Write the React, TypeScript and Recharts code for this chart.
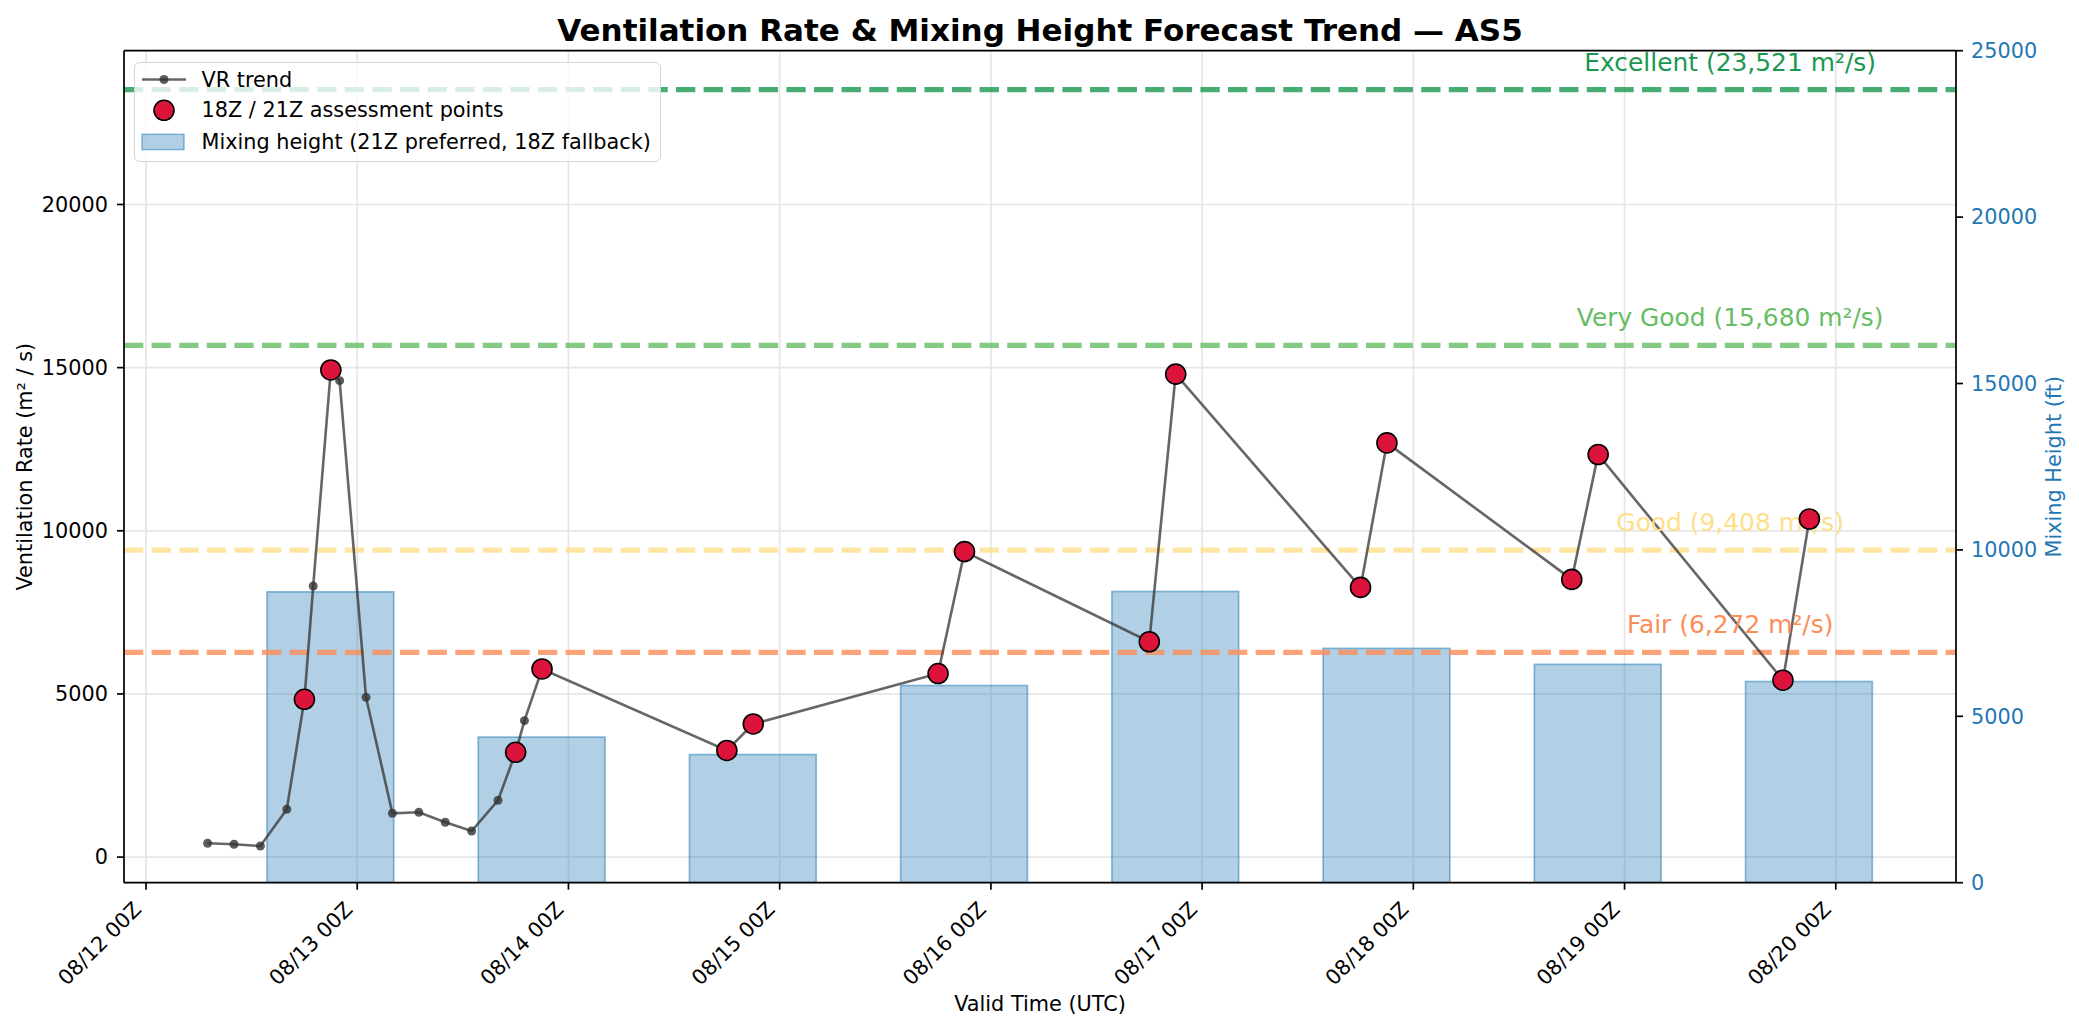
import React from "react";
import {
  ComposedChart,
  Bar,
  Line,
  Scatter,
  XAxis,
  YAxis,
  CartesianGrid,
  ReferenceLine,
  ReferenceDot,
  Legend,
} from "recharts";

const FONT = '"DejaVu Sans", Verdana, sans-serif';

// valid times, hours after 08/12 00Z
const trendHours = [7, 10, 13, 16, 18, 19, 21, 22, 25, 28, 31, 34, 37, 40, 42, 43, 45, 66, 69, 90, 93, 114, 117, 138, 141, 162, 165, 186, 189];
const trendVR = [423, 392, 340, 1465, 4836, 8308, 14928, 14600, 4897, 1342, 1373, 1066, 800, 1741, 3212, 4180, 5765, 3267, 4080, 5624, 9362, 6599, 14800, 8265, 12694, 8510, 12338, 5421, 10361];

const mixHours = [21, 45, 69, 93, 117, 141, 165, 189];
const mixHeight = [8740, 4375, 3850, 5925, 8750, 7040, 6560, 6045];

const tickHours = [0, 24, 48, 72, 96, 120, 144, 168, 192];
const tickLabels = ["08/12 00Z", "08/13 00Z", "08/14 00Z", "08/15 00Z", "08/16 00Z", "08/17 00Z", "08/18 00Z", "08/19 00Z", "08/20 00Z"];

const assessZ = [18, 21];

const thresholdNames = ["Excellent", "Very Good", "Good", "Fair"];
const thresholdValues = [23521, 15680, 9408, 6272];
const thresholdColors = ["#1a9850", "#66bd63", "#fee08b", "#fc8d59"];

const vrTicks = [0, 5000, 10000, 15000, 20000];
const mixTicks = [0, 5000, 10000, 15000, 20000, 25000];

const W = 2079;
const H = 1032;
const MARGIN = { top: 50.7, right: 43, bottom: 39.3, left: 44 };
const AXIS_W = 80;
const XAXIS_H = 110;
const PLOT_W = W - MARGIN.left - MARGIN.right - 2 * AXIS_W;
const X_DOMAIN: [number, number] = [-2.5, 205.66];
const VR_DOMAIN: [number, number] = [-785, 24713];
const MIX_DOMAIN: [number, number] = [0, 25000];
const BAR_HOURS = 14.4;
const BAR_PX = (BAR_HOURS * PLOT_W) / (X_DOMAIN[1] - X_DOMAIN[0]);
const LABEL_HOUR = 180;
const BLUE = "#1f77b4";

const isAssess = (t: number) => assessZ.includes(t % 24);

const rows = trendHours.map((t, i) => {
  const k = mixHours.indexOf(t);
  return { t, vr: trendVR[i], mix: k >= 0 ? mixHeight[k] : null };
});
const assessRows = rows.filter((r) => isAssess(r.t));

const XTick = ({ x, y, payload }: any) => {
  const i = tickHours.indexOf(payload.value);
  const ax = x - 3.5;
  const ay = y + 19;
  return (
    <text x={ax} y={ay} textAnchor="end" transform={`rotate(-45 ${ax} ${ay})`} fill="#000" fontSize={20.8} fontFamily={FONT}>
      {tickLabels[i]}
    </text>
  );
};

const MixBar = (props: any) => {
  const { x, y, width, height, payload } = props;
  if (payload == null || payload.mix == null || !height) return null;
  const cx = x + width / 2;
  return (
    <rect
      x={cx - BAR_PX / 2}
      y={y}
      width={BAR_PX}
      height={height}
      fill={BLUE}
      fillOpacity={0.35}
      stroke={BLUE}
      strokeOpacity={0.5}
      strokeWidth={1.7}
    />
  );
};

// trend markers; the 18Z/21Z points get the red marker instead
const TrendDot = (props: any) => {
  const { cx, cy, payload, index } = props;
  if (cx == null || cy == null || payload == null || isAssess(payload.t)) return <g key={`d${index}`} />;
  return <circle key={`d${index}`} cx={cx} cy={cy} r={4.5} fill="#333" fillOpacity={0.8} />;
};

const Assess = (props: any) => {
  const { cx, cy } = props;
  if (cx == null || cy == null) return null;
  return <circle cx={cx} cy={cy} r={10} fill="#dc143c" stroke="#000" strokeWidth={1.6} />;
};

const LegendBox = () => (
  <div
    style={{
      width: 527,
      height: 100.6,
      boxSizing: "border-box",
      border: "1.5px solid #d6d6d6",
      borderRadius: 6,
      background: "rgba(255,255,255,0.8)",
    }}
  >
    <svg width={527} height={98} style={{ display: "block" }}>
      <line x1={7} x2={51} y1={16.5} y2={16.5} stroke="#333" strokeOpacity={0.75} strokeWidth={2.5} />
      <circle cx={29} cy={16.5} r={4.5} fill="#333" fillOpacity={0.8} />
      <text x={66.5} y={16.5} dominantBaseline="central" fontSize={20.8} fontFamily={FONT} fill="#000">VR trend</text>
      <circle cx={29} cy={47.3} r={10} fill="#dc143c" stroke="#000" strokeWidth={1.6} />
      <text x={66.5} y={47.3} dominantBaseline="central" fontSize={20.8} fontFamily={FONT} fill="#000">18Z / 21Z assessment points</text>
      <rect x={7} y={71.3} width={42} height={15.3} fill={BLUE} fillOpacity={0.35} stroke={BLUE} strokeOpacity={0.5} strokeWidth={1.5} />
      <text x={66.5} y={79} dominantBaseline="central" fontSize={20.8} fontFamily={FONT} fill="#000">Mixing height (21Z preferred, 18Z fallback)</text>
    </svg>
  </div>
);

const thresholdLabel = (i: number) => (p: any) => {
  const vb = p.viewBox || {};
  return (
    <text x={vb.x} y={vb.y - 19} textAnchor="middle" fill={thresholdColors[i]} fontSize={24.9} fontFamily={FONT}>
      {`${thresholdNames[i]} (${thresholdValues[i].toLocaleString("en-US")} m²/s)`}
    </text>
  );
};

const leftLabel = (p: any) => {
  const vb = p.viewBox || { x: MARGIN.left, y: MARGIN.top, height: H - MARGIN.top - MARGIN.bottom - XAXIS_H };
  const x = vb.x - 19;
  const y = vb.y + vb.height / 2;
  return (
    <text x={x} y={y} transform={`rotate(-90 ${x} ${y})`} textAnchor="middle" dominantBaseline="central" fontSize={20.8} fontFamily={FONT} fill="#000">
      Ventilation Rate (m² / s)
    </text>
  );
};

const rightLabel = (p: any) => {
  const vb = p.viewBox || { x: MARGIN.left + AXIS_W + PLOT_W, y: MARGIN.top, height: H - MARGIN.top - MARGIN.bottom - XAXIS_H };
  const x = vb.x + 97.7;
  const y = vb.y + vb.height / 2;
  return (
    <text x={x} y={y} transform={`rotate(-90 ${x} ${y})`} textAnchor="middle" dominantBaseline="central" fontSize={20.8} fontFamily={FONT} fill={BLUE}>
      Mixing Height (ft)
    </text>
  );
};

const bottomLabel = (p: any) => {
  const vb = p.viewBox || { x: MARGIN.left + AXIS_W, y: H - MARGIN.bottom - XAXIS_H, width: PLOT_W };
  return (
    <text x={vb.x + vb.width / 2} y={vb.y + 128.5} textAnchor="middle" fontSize={20.8} fontFamily={FONT} fill="#000">
      Valid Time (UTC)
    </text>
  );
};

export default function App() {
  return (
    <div style={{ position: "absolute", left: 0, top: 0, width: W, height: H, background: "#fff", fontFamily: FONT }}>
      <div
        style={{
          position: "absolute",
          left: MARGIN.left + AXIS_W,
          width: PLOT_W,
          top: 12,
          textAlign: "center",
          fontWeight: "bold",
          fontSize: 31,
          lineHeight: "36px",
          color: "#000",
          whiteSpace: "nowrap",
        }}
      >
        Ventilation Rate &amp; Mixing Height Forecast Trend — AS5
      </div>
      <ComposedChart width={W} height={H} data={rows} margin={MARGIN}>
        <CartesianGrid xAxisId={0} yAxisId="left" stroke="#e6e6e6" strokeWidth={1.7} />
        <XAxis
          dataKey="t"
          type="number"
          domain={X_DOMAIN}
          allowDataOverflow
          ticks={tickHours}
          interval={0}
          height={XAXIS_H}
          tickSize={7}
          tickMargin={2}
          tick={<XTick />}
          axisLine={{ stroke: "#000", strokeWidth: 1.7 }}
          tickLine={{ stroke: "#000", strokeWidth: 1.7 }}
          label={bottomLabel}
        />
        <YAxis
          yAxisId="left"
          orientation="left"
          domain={VR_DOMAIN}
          allowDataOverflow
          ticks={vrTicks}
          interval={0}
          width={AXIS_W}
          tickSize={7}
          tickMargin={9}
          tick={{ fill: "#000", fontSize: 20.8, fontFamily: FONT }}
          axisLine={{ stroke: "#000", strokeWidth: 1.7 }}
          tickLine={{ stroke: "#000", strokeWidth: 1.7 }}
          label={leftLabel}
        />
        <YAxis
          yAxisId="right"
          orientation="right"
          domain={MIX_DOMAIN}
          allowDataOverflow
          ticks={mixTicks}
          interval={0}
          width={AXIS_W}
          tickSize={7}
          tickMargin={8}
          tick={{ fill: BLUE, fontSize: 20.8, fontFamily: FONT }}
          axisLine={{ stroke: "#000", strokeWidth: 1.7 }}
          tickLine={{ stroke: "#000", strokeWidth: 1.7 }}
          label={rightLabel}
        />
        {thresholdValues.map((v, i) => (
          <ReferenceDot
            key={`lbl-${thresholdNames[i]}`}
            yAxisId="left"
            x={LABEL_HOUR}
            y={v}
            r={0}
            fill="none"
            stroke="none"
            label={thresholdLabel(i)}
          />
        ))}
        <Bar yAxisId="right" dataKey="mix" barSize={Math.round(BAR_PX)} shape={<MixBar />} isAnimationActive={false} />
        {thresholdValues.map((v, i) => (
          <ReferenceLine
            key={thresholdNames[i]}
            yAxisId="left"
            y={v}
            stroke={thresholdColors[i]}
            strokeOpacity={0.8}
            strokeWidth={5.2}
            strokeDasharray="19.3 8.3"
          />
        ))}
        <ReferenceLine yAxisId="left" y={VR_DOMAIN[1]} stroke="#000" strokeWidth={1.7} />
        <Line
          yAxisId="left"
          dataKey="vr"
          type="linear"
          stroke="#333"
          strokeOpacity={0.75}
          strokeWidth={2.6}
          dot={TrendDot}
          activeDot={false}
          isAnimationActive={false}
        />
        <Scatter yAxisId="left" data={assessRows} dataKey="vr" shape={<Assess />} isAnimationActive={false} />
        <Legend
          layout="horizontal"
          verticalAlign="middle"
          align="center"
          width={527}
          height={100.6}
          wrapperStyle={{ left: 133.6, top: 61.7, width: 527, height: 100.6 }}
          content={() => <LegendBox />}
        />
      </ComposedChart>
    </div>
  );
}
